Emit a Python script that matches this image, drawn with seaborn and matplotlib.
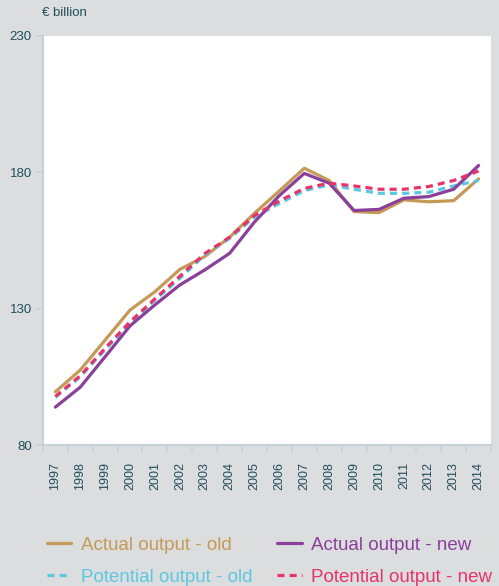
import pandas as pd
import matplotlib
matplotlib.use("Agg")
import matplotlib.pyplot as plt
import seaborn as sns

years = [str(y) for y in range(1997, 2015)]
actual_old = [99.5, 107.5, 118.5, 129.5, 136.2, 144.4, 149.1, 156.2, 165.0, 173.2, 181.5, 177.0,
              165.6, 165.2, 169.9, 169.2, 169.6, 177.6]
actual_new = [93.9, 101.2, 112.4, 123.7, 131.4, 138.7, 144.2, 150.3, 161.8, 171.5, 179.6, 176.0,
              166.0, 166.4, 170.5, 171.1, 173.8, 182.5]
potential_old = [97.5, 105.0, 115.0, 124.6, 133.2, 141.1, 149.7, 155.8, 163.6, 168.6, 173.3, 175.4,
                 173.8, 172.3, 172.3, 172.7, 175.0, 177.0]
potential_new = [97.8, 105.4, 115.5, 125.2, 133.6, 141.9, 150.2, 156.2, 164.2, 169.5, 174.1, 176.0,
                 175.0, 173.8, 173.8, 174.8, 177.0, 180.5]

TXT = "#1f4e5a"
BG = "#dcdddf"
SPINE = "#c5d3d8"

sns.set_theme(style="white")
plt.rcParams["font.family"] = ["Liberation Sans", "DejaVu Sans"]

fig = plt.figure(figsize=(4.99, 5.86), dpi=100, facecolor=BG)
ax = fig.add_axes([0.086, 0.2406, 0.898, 0.698])
ax.set_facecolor("white")

x = list(range(len(years)))
series = [
    ("Actual output - old", actual_old, "#c49a56", ""),
    ("Potential output - old", potential_old, "#5bc8e0", (2.2, 1.6)),
    ("Actual output - new", actual_new, "#8a3f9a", ""),
    ("Potential output - new", potential_new, "#e8336a", (2.2, 1.6)),
]
handles = []
for label, vals, color, dash in series:
    df = pd.DataFrame({"x": x, "y": vals})
    sns.lineplot(data=df, x="x", y="y", ax=ax, color=color, linewidth=2.3, label=label)
    line = ax.lines[-1]
    if dash:
        line.set_dashes(dash)
    handles.append(line)
ax.get_legend().remove()

ax.set_xlim(-0.5, len(years) - 0.5)
ax.set_ylim(80, 230)
ax.set_yticks([80, 130, 180, 230])
ax.set_xticks([i - 0.5 for i in range(len(years) + 1)])
ax.set_xticklabels([])
ax.set_xticks(x, minor=True)
ax.set_xticklabels(years, minor=True, rotation=90)
ax.tick_params(axis="x", which="major", length=5, color=SPINE, direction="out", bottom=True)
ax.tick_params(axis="x", which="minor", length=0, pad=12, labelsize=9, labelcolor=TXT)
ax.tick_params(axis="y", length=5, color=SPINE, left=True, labelsize=9.5, labelcolor=TXT, pad=3)
ax.set_xlabel(""); ax.set_ylabel("")
for s in ["left", "bottom"]:
    ax.spines[s].set_color(SPINE)
    ax.spines[s].set_linewidth(1.5)
for s in ["top", "right"]:
    ax.spines[s].set_visible(False)

fig.text(0.084, 0.977, "€ billion", color=TXT, fontsize=9.5, va="center", ha="left")

fig.legend(handles=handles, labels=[s[0] for s in series], ncol=2, loc="lower left",
           bbox_to_anchor=(0.06, -0.028), frameon=False, fontsize=13.5, labelcolor="linecolor",
           handlelength=1.3, handletextpad=0.5, columnspacing=1.35, labelspacing=0.77)

fig.savefig("out.png", dpi=100, facecolor=BG)
